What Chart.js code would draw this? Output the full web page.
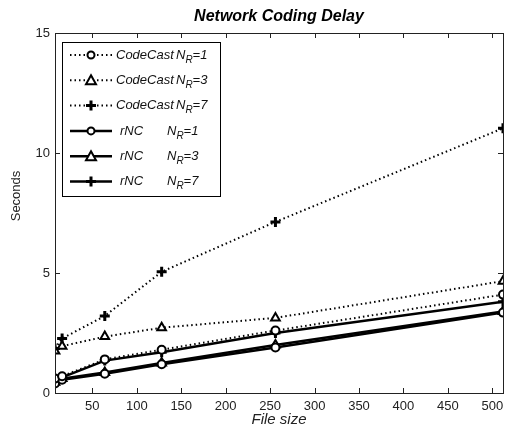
<!DOCTYPE html>
<html>
<head>
<meta charset="utf-8">
<script src="https://cdn.jsdelivr.net/npm/chart.js@4"></script>
<style>
  html, body { margin: 0; padding: 0; background: #fff; }
</style>
</head>
<body>
<canvas id="delayChart" width="511" height="435"></canvas>
<script>
// data
const fileSizes = [8, 16, 64, 128, 256, 512];
const codeCast1 = [0.6, 0.7, 1.4, 1.8, 2.6, 4.1];
const codeCast3 = [1.75, 1.95, 2.35, 2.72, 3.13, 4.66];
const codeCast7 = [1.85, 2.27, 3.21, 5.05, 7.13, 11.03];
const rnc1 = [0.4, 0.55, 0.8, 1.2, 1.9, 3.35];
const rnc3 = [0.45, 0.6, 0.85, 1.25, 2.0, 3.4];
const rnc7 = [0.5, 0.65, 1.35, 1.7, 2.5, 3.8];
const xTicks = [50, 100, 150, 200, 250, 300, 350, 400, 450, 500];
const yTicks = [0, 5, 10, 15];
const legendNames = ["CodeCast", "CodeCast", "CodeCast", "rNC", "rNC", "rNC"];
const legendNR = ["1", "3", "7", "1", "3", "7"];

const FONT = '"Liberation Sans", Arial, sans-serif';

function pts(arr) {
  return fileSizes.map((x, i) => ({ x: x, y: arr[i] }));
}

function series(arr, dotted, marker) {
  return {
    data: pts(arr),
    borderColor: "#000",
    borderWidth: dotted ? 2 : 2.5,
    borderDash: dotted ? [1.5, 3] : [],
    pointStyle: marker,
    pointRadius: marker == "circle" ? 4 : 5,
    pointBackgroundColor: "#fff",
    pointBorderColor: "#000",
    pointBorderWidth: marker == "cross" ? 3 : 2,
    tension: 0,
    fill: false,
  };
}

function drawMarker(c, style, x, y) {
  c.save();
  c.setLineDash([]);
  c.strokeStyle = "#000";
  c.fillStyle = "#fff";
  if (style == "circle") {
    c.lineWidth = 2;
    c.beginPath();
    c.arc(x, y, 3.5, 0, Math.PI * 2);
    c.fill();
    c.stroke();
  } else if (style == "triangle") {
    c.lineWidth = 2;
    c.beginPath();
    c.moveTo(x, y - 5);
    c.lineTo(x + 5, y + 4);
    c.lineTo(x - 5, y + 4);
    c.closePath();
    c.fill();
    c.stroke();
  } else {
    c.lineWidth = 3;
    c.beginPath();
    c.moveTo(x - 5, y);
    c.lineTo(x + 5, y);
    c.moveTo(x, y - 5);
    c.lineTo(x, y + 5);
    c.stroke();
  }
  c.restore();
}

// box, inward ticks, titles and the legend with subscripts
const decorations = {
  id: "decorations",
  afterDatasetsDraw(chart) {
    const c = chart.ctx;
    const a = chart.chartArea;
    const xs = chart.scales.x;
    const ys = chart.scales.y;
    c.save();
    c.strokeStyle = "#222";
    c.lineWidth = 1;
    c.strokeRect(Math.round(a.left) + 0.5, Math.round(a.top) + 0.5,
      Math.round(a.right - a.left), Math.round(a.bottom - a.top));
    c.beginPath();
    xTicks.forEach(v => {
      const px = Math.round(xs.getPixelForValue(v)) + 0.5;
      c.moveTo(px, a.bottom); c.lineTo(px, a.bottom - 5);
      c.moveTo(px, a.top); c.lineTo(px, a.top + 5);
    });
    yTicks.forEach(v => {
      const py = Math.round(ys.getPixelForValue(v)) + 0.5;
      c.moveTo(a.left, py); c.lineTo(a.left + 5, py);
      c.moveTo(a.right, py); c.lineTo(a.right - 5, py);
    });
    c.stroke();

    // titles
    c.fillStyle = "#000";
    c.textAlign = "center";
    c.textBaseline = "middle";
    c.font = "bold italic 16px " + FONT;
    c.fillText("Network Coding Delay", (a.left + a.right) / 2, 17);
    c.fillStyle = "#222";
    c.font = "italic 15px " + FONT;
    c.fillText("File size", (a.left + a.right) / 2, 420);
    c.save();
    c.translate(16, 196);
    c.rotate(-Math.PI / 2);
    c.font = "13px " + FONT;
    c.fillText("Seconds", 0, 0);
    c.restore();

    // legend
    const lx = 62, ly = 42, lw = 158, lh = 154;
    c.fillStyle = "#fff";
    c.fillRect(lx, ly, lw, lh);
    c.strokeStyle = "#000";
    c.strokeRect(lx + 0.5, ly + 0.5, lw, lh);
    chart.data.datasets.forEach((ds, i) => {
      const y = 55 + i * 25.3;
      c.save();
      c.strokeStyle = "#000";
      c.lineWidth = ds.borderWidth;
      c.setLineDash(ds.borderDash);
      c.beginPath();
      c.moveTo(70, y);
      c.lineTo(112, y);
      c.stroke();
      c.restore();
      drawMarker(c, ds.pointStyle, 91, y);
      c.fillStyle = "#111";
      c.textAlign = "left";
      c.textBaseline = "middle";
      c.font = "italic 13px " + FONT;
      const dotted = ds.borderDash.length > 0;
      c.fillText(legendNames[i], dotted ? 116 : 120, y);
      let nx = dotted ? 176 : 167;
      c.fillText("N", nx, y);
      nx += c.measureText("N").width;
      c.font = "italic 10px " + FONT;
      c.fillText("R", nx, y + 5);
      nx += c.measureText("R").width;
      c.font = "italic 13px " + FONT;
      c.fillText("=" + legendNR[i], nx, y);
    });
    c.restore();
  },
};

const ctx = document.getElementById("delayChart").getContext("2d");
const delayChart = new Chart(ctx, {
  type: "line",
  data: {
    datasets: [
      series(codeCast1, true, "circle"),
      series(codeCast3, true, "triangle"),
      series(codeCast7, true, "cross"),
      series(rnc1, false, "circle"),
      series(rnc3, false, "triangle"),
      series(rnc7, false, "cross"),
    ],
  },
  options: {
    responsive: false,
    animation: false,
    devicePixelRatio: 1,
    layout: { padding: { left: 0, top: 33, right: 3, bottom: 0 } },
    plugins: {
      legend: { display: false },
      title: { display: false },
      tooltip: { enabled: false },
    },
    scales: {
      x: {
        type: "linear",
        min: 8,
        max: 512,
        grid: { display: false, drawTicks: false },
        border: { display: false },
        afterBuildTicks: s => { s.ticks = xTicks.map(v => ({ value: v })); },
        afterFit: s => { s.height = 42; },
        ticks: { padding: 6, color: "#222", font: { family: FONT, size: 13 }, maxRotation: 0 },
      },
      y: {
        min: 0,
        max: 15,
        grid: { display: false, drawTicks: false },
        border: { display: false },
        afterBuildTicks: s => { s.ticks = yTicks.map(v => ({ value: v })); },
        afterFit: s => { s.width = 55; },
        ticks: { padding: 5, color: "#222", font: { family: FONT, size: 13 } },
      },
    },
  },
  plugins: [decorations],
});
</script>
</body>
</html>
